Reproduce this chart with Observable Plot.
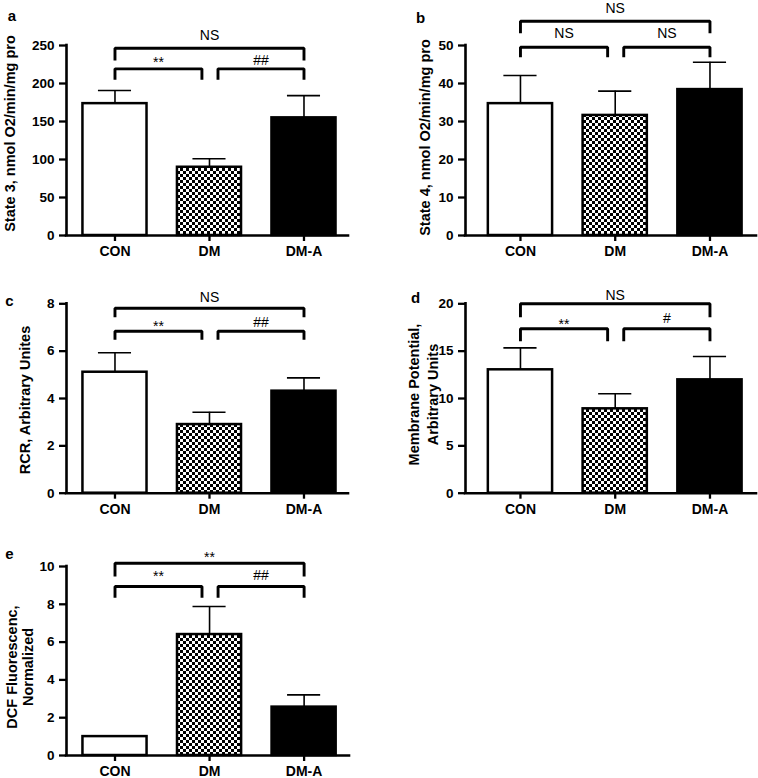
<!DOCTYPE html>
<html><head><meta charset="utf-8">
<script src="https://cdn.jsdelivr.net/npm/d3@7"></script>
<script src="https://cdn.jsdelivr.net/npm/@observablehq/plot@0.6"></script>
<style>
body{margin:0;background:#fff;}
#fig{position:relative;width:758px;height:778px;overflow:hidden;background:#fff;}
.panel{position:absolute;}
</style></head><body><div id="fig"></div>
<script>
// ---------- data ----------
const categories = ["CON", "DM", "DM-A"];

// a: State 3
const state3Mean = [173.5, 89.8, 154.8];
const state3Sem  = [17.3, 11.2, 29.2];
const state3Ticks = [0, 50, 100, 150, 200, 250];
const state3Brackets = [
  {from: "CON", to: "DM-A", level: 246.4, base: 230.3, label: "NS", labelY: 262.8},
  {from: "CON", to: "DM",   level: 219.3, base: 204.9, label: "**", labelY: 231.6},
  {from: "DM",  to: "DM-A", level: 219.3, base: 204.9, label: "##", labelY: 230.9}
];

// b: State 4
const state4Mean = [34.7, 31.6, 38.4];
const state4Sem  = [7.4, 6.4, 7.2];
const state4Ticks = [0, 10, 20, 30, 40, 50];
const state4Brackets = [
  {from: "CON", to: "DM-A", level: 56.4, base: 53.2, label: "NS", labelY: 59.7},
  {from: "CON", to: "DM",   level: 49.55, base: 46.9, label: "NS", labelY: 53.2},
  {from: "DM",  to: "DM-A", level: 49.55, base: 46.9, label: "NS", labelY: 53.2}
];

// c: RCR
const rcrMean = [5.11, 2.90, 4.31];
const rcrSem  = [0.82, 0.52, 0.56];
const rcrTicks = [0, 2, 4, 6, 8];
const rcrBrackets = [
  {from: "CON", to: "DM-A", level: 7.81, base: 7.43, label: "NS", labelY: 8.25},
  {from: "CON", to: "DM",   level: 6.84, base: 6.48, label: "**", labelY: 7.16},
  {from: "DM",  to: "DM-A", level: 6.84, base: 6.48, label: "##", labelY: 7.22}
];

// d: Membrane potential
const mpMean = [13.03, 8.91, 11.97];
const mpSem  = [2.32, 1.59, 2.47];
const mpTicks = [0, 5, 10, 15, 20];
const mpBrackets = [
  {from: "CON", to: "DM-A", level: 20.0, base: 18.59, label: "NS", labelY: 20.85},
  {from: "CON", to: "DM",   level: 17.36, base: 16.05, label: "**", labelY: 18.16},
  {from: "DM",  to: "DM-A", level: 17.36, base: 16.05, label: "#",  labelY: 18.45}
];

// e: DCF fluorescence
const dcfMean = [1.0, 6.40, 2.56];
const dcfSem  = [0, 1.48, 0.65];
const dcfTicks = [0, 2, 4, 6, 8, 10];
const dcfBrackets = [
  {from: "CON", to: "DM-A", level: 10.17, base: 9.47, label: "**", labelY: 10.63},
  {from: "CON", to: "DM",   level: 8.94, base: 8.34, label: "**", labelY: 9.63},
  {from: "DM",  to: "DM-A", level: 8.94, base: 8.34, label: "##", labelY: 9.52}
];

// ---------- layout / style ----------
const FONT = "'Liberation Sans', Arial, Helvetica, sans-serif";
const barFill = {"CON": "white", "DM": "checker", "DM-A": "black"};
const GAP_L = 0.08, GAP_R = 0.09, BAR_HALF = 0.339, CAP_HALF = 0.175;

const panels = [
  {id: "a", left: 0, top: 0, width: 379, height: 262, mL: 66, mR: 31, mT: 45, mB: 27,
   xDomain: [-0.513, 2.471], mean: state3Mean, sem: state3Sem, ticks: state3Ticks, brackets: state3Brackets,
   ylabel: "State 3, nmol O2/min/mg pro", lx: -57, ly: -7, lh: 1.2, letter: "a", ax: -54.5, ay: -29},
  {id: "b", left: 379, top: 0, width: 379, height: 262, mL: 86, mR: 2, mT: 45, mB: 27,
   xDomain: [-0.580, 2.491], mean: state4Mean, sem: state4Sem, ticks: state4Ticks, brackets: state4Brackets,
   ylabel: "State 4, nmol O2/min/mg pro", lx: -41, ly: -3, lh: 1.2, letter: "b", ax: -45, ay: -27.5},
  {id: "c", left: 0, top: 262, width: 379, height: 262, mL: 66, mR: 31, mT: 41.3, mB: 31.3,
   xDomain: [-0.513, 2.471], mean: rcrMean, sem: rcrSem, ticks: rcrTicks, brackets: rcrBrackets,
   ylabel: "RCR, Arbitrary Unites", lx: -42, ly: 1.5, lh: 1.2, letter: "c", ax: -57, ay: -2.3},
  {id: "d", left: 379, top: 262, width: 379, height: 262, mL: 86, mR: 2, mT: 41.3, mB: 31.3,
   xDomain: [-0.580, 2.491], mean: mpMean, sem: mpSem, ticks: mpTicks, brackets: mpBrackets,
   ylabel: "Membrane Potential,\nArbitrary Units", lx: -42.7, ly: -4, lh: 1.3, letter: "d", ax: -50, ay: -5.8},
  {id: "e", left: 0, top: 524, width: 379, height: 254, mL: 66, mR: 30, mT: 42, mB: 23,
   xDomain: [-0.513, 2.48], mean: dcfMean, sem: dcfSem, ticks: dcfTicks, brackets: dcfBrackets,
   ylabel: "DCF Fluorescenc,\nNormalized", lx: -46.8, ly: 6, lh: 1.15, letter: "e", ax: -57, ay: -12}
];

const fig = document.getElementById("fig");

function drawPanel(p) {
  const pat = "chk-" + p.id;
  const fills = {};
  for (const c of categories) fills[c] = barFill[c] === "checker" ? `url(#${pat})` : barFill[c];
  const rows = categories.map((c, i) => ({cat: c, i, mean: p.mean[i], sem: p.sem[i]}));
  const errRows = rows.filter(d => d.sem > 0);
  const ymax = p.ticks[p.ticks.length - 1];
  const idx = c => categories.indexOf(c);
  const ends = b => [idx(b.from) + (b.from === "DM" ? GAP_R : 0), idx(b.to) - (b.to === "DM" ? GAP_L : 0)];
  const pts = p.brackets.flatMap((b, k) => {
    const [x1, x2] = ends(b);
    return [{k, x: x1, y: b.base}, {k, x: x1, y: b.level}, {k, x: x2, y: b.level}, {k, x: x2, y: b.base}];
  });
  const labels = p.brackets.map(b => {
    const [x1, x2] = ends(b);
    return {x: (x1 + x2) / 2, y: b.labelY, text: b.label};
  });

  const svg = Plot.plot({
    width: p.width, height: p.height,
    marginLeft: p.mL, marginRight: p.mR, marginTop: p.mT, marginBottom: p.mB,
    style: {fontFamily: FONT, background: "transparent", overflow: "visible", color: "black"},
    x: {type: "linear", domain: p.xDomain, axis: null},
    y: {domain: [0, ymax], axis: null},
    color: {type: "identity"},
    marks: [
      Plot.rect(rows, {x1: d => d.i - BAR_HALF, x2: d => d.i + BAR_HALF, y1: 0, y2: "mean",
        fill: d => fills[d.cat], stroke: "black", strokeWidth: 2.5}),
      Plot.ruleX(errRows, {x: "i", y1: "mean", y2: d => d.mean + d.sem, stroke: "black", strokeWidth: 1.6}),
      Plot.ruleY(errRows, {y: d => d.mean + d.sem, x1: d => d.i - CAP_HALF, x2: d => d.i + CAP_HALF, stroke: "black", strokeWidth: 1.6}),
      Plot.ruleY([0], {stroke: "black", strokeWidth: 2.6, strokeLinecap: "square"}),
      Plot.ruleX([p.xDomain[0]], {y1: 0, y2: ymax, stroke: "black", strokeWidth: 2.6, strokeLinecap: "square"}),
      Plot.axisY({ticks: p.ticks, tickSize: 7, tickPadding: 5, fontSize: 13.5, fontWeight: "bold", strokeWidth: 2.3, label: null}),
      Plot.axisX({ticks: [0, 1, 2], tickFormat: i => categories[i], tickSize: 6, tickPadding: 5, fontSize: 14, fontWeight: "bold", strokeWidth: 2.3, label: null}),
      Plot.line(pts, {x: "x", y: "y", z: "k", stroke: "black", strokeWidth: 2.9, strokeLinejoin: "miter", strokeLinecap: "butt"}),
      Plot.text(labels, {x: "x", y: "y", text: "text", fontSize: 14, fill: "black"}),
      Plot.text([p.ylabel], {frameAnchor: "left", text: d => d, rotate: -90, dx: p.lx, dy: p.ly,
        fontSize: 14.5, fontWeight: "bold", textAnchor: "middle", lineAnchor: "middle", lineHeight: p.lh, fill: "black"}),
      Plot.text([p.letter], {frameAnchor: "top-left", text: d => d, dx: p.ax, dy: p.ay,
        fontSize: 15, fontWeight: "bold", textAnchor: "middle", lineAnchor: "middle", fill: "black"})
    ]
  });
  // checker pattern
  const defs = d3.select(svg).insert("defs", ":first-child");
  const pt = defs.append("pattern").attr("id", pat).attr("width", 6).attr("height", 6).attr("patternUnits", "userSpaceOnUse");
  pt.append("rect").attr("width", 6).attr("height", 6).attr("fill", "white");
  pt.append("rect").attr("width", 3).attr("height", 3).attr("fill", "black");
  pt.append("rect").attr("x", 3).attr("y", 3).attr("width", 3).attr("height", 3).attr("fill", "black");

  // asterisk labels sit higher in the em box; nudge them down
  d3.select(svg).selectAll("text").each(function() {
    if (this.textContent && /^\*+$/.test(this.textContent.trim())) {
      const t = this.getAttribute("transform") || "";
      this.setAttribute("transform", t + " translate(0,3)");
    }
  });

  const div = document.createElement("div");
  div.className = "panel";
  div.style.left = p.left + "px";
  div.style.top = p.top + "px";
  div.style.width = p.width + "px";
  div.style.height = p.height + "px";
  div.appendChild(svg);
  fig.appendChild(div);
}

panels.forEach(drawPanel);
</script>
</body></html>
